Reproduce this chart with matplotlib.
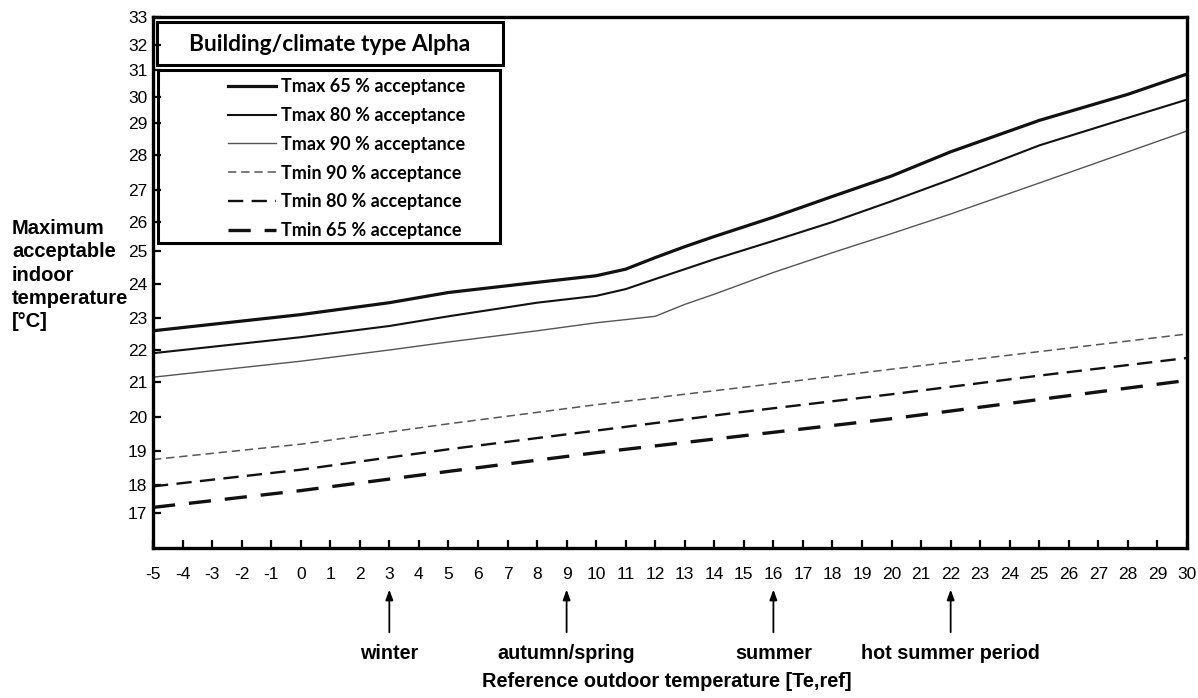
import numpy as np
import matplotlib
matplotlib.use('Agg')
import matplotlib.pyplot as plt
from matplotlib.patches import Rectangle
from matplotlib.lines import Line2D

# reference outdoor temperature [Te,ref]
x_max = [-5, 0, 3, 5, 8, 10, 11, 12, 13, 14, 16, 18, 20, 22, 25, 28, 30]
tmax_65 = [22.6, 23.1, 23.45, 23.75, 24.05, 24.25, 24.45, 24.8, 25.15, 25.5, 26.15, 26.8, 27.4, 28.1, 29.1, 30.1, 30.85]
tmax_80 = [21.9, 22.4, 22.75, 23.05, 23.45, 23.65, 23.85, 24.15, 24.45, 24.75, 25.35, 26.0, 26.65, 27.3, 28.3, 29.2, 29.9]
tmax_90 = [21.15, 21.65, 22.0, 22.25, 22.6, 22.85, 22.95, 23.05, 23.4, 23.7, 24.35, 24.95, 25.6, 26.25, 27.2, 28.1, 28.75]

x_min = [-5, 0, 5, 10, 15, 20, 25, 30]
tmin_90 = [18.75, 19.2, 19.8, 20.35, 20.85, 21.4, 21.95, 22.5]
tmin_80 = [17.95, 18.45, 19.05, 19.6, 20.15, 20.65, 21.2, 21.75]
tmin_65 = [17.2, 17.8, 18.4, 18.95, 19.45, 19.95, 20.5, 21.05]

labels = ['Tmax 65 % acceptance', 'Tmax 80 % acceptance', 'Tmax 90 % acceptance',
          'Tmin 90 % acceptance', 'Tmin 80 % acceptance', 'Tmin 65 % acceptance']
seasons = ['winter', 'autumn/spring', 'summer', 'hot summer period']
season_te = [3, 9, 16, 22]

x_ticks = list(range(-5, 31))
y_ticks = list(range(17, 34))

# the scanned original has uneven tick spacing on the y axis,
# so the scale follows the measured spacing (height above x axis, px)
scale_vals = np.arange(16, 34)
scale_h = 548 - np.array([548, 513, 485, 451, 417, 382, 350, 318, 284, 251,
                          222, 190, 155, 123, 97, 70, 45, 17])

def fwd(v):
    return np.interp(v, scale_vals, scale_h)

def inv(h):
    return np.interp(h, scale_h, scale_vals)

plt.rcParams['font.family'] = ['Liberation Sans', 'DejaVu Sans']
plt.rcParams['lines.scale_dashes'] = False

styles = [
    dict(color='#111111', lw=2.3, ls='-'),
    dict(color='#111111', lw=1.5, ls='-'),
    dict(color='#555555', lw=1.0, ls='-'),
    dict(color='#555555', lw=1.1, dashes=(6, 3.5)),
    dict(color='#111111', lw=1.7, dashes=(11, 6)),
    dict(color='#111111', lw=2.4, dashes=(16, 10)),
]

fig = plt.figure(figsize=(11.98, 6.98), dpi=100)
ax = fig.add_axes([153/1198, 150/698, 1034/1198, 531/698])
ax.set_yscale('function', functions=(fwd, inv))

series = [(x_max, tmax_65), (x_max, tmax_80), (x_max, tmax_90),
          (x_min, tmin_90), (x_min, tmin_80), (x_min, tmin_65)]
for (xs, ys), st in zip(series, styles):
    ax.plot(xs, ys, solid_capstyle='butt', dash_capstyle='butt', **st)

ax.set_xlim(-5, 30)
ax.set_ylim(16, 33)
ax.set_xticks(x_ticks)
ax.set_yticks(y_ticks)
ax.set_xticklabels([str(t) for t in x_ticks])
ax.set_yticklabels([str(t) for t in y_ticks])
ax.minorticks_off()
ax.tick_params(axis='both', direction='in', length=6, width=1.6, labelsize=12.5, colors='black')
ax.tick_params(axis='x', pad=14)
ax.tick_params(axis='y', pad=4)
for sp in ax.spines.values():
    sp.set_linewidth(2.4)
    sp.set_color('black')

# title box and legend box
ax.add_patch(Rectangle((0.004, 0.9096), 0.3345, 0.081, transform=ax.transAxes,
                       fill=False, lw=2.2, ec='black', zorder=5))
ax.text(0.171, 0.949, 'Building/climate type Alpha', transform=ax.transAxes,
        ha='center', va='center', family='Lato', weight='bold', fontsize=16.4)
ax.add_patch(Rectangle((0.005, 0.5744), 0.3308, 0.3256, transform=ax.transAxes,
                       fill=False, lw=2.2, ec='black', zorder=5))
handles = [Line2D([], [], **st) for st in styles]
ax.legend(handles, labels, loc='upper left', bbox_to_anchor=(0.0725, 0.8845),
          frameon=False, borderaxespad=0, borderpad=0, handlelength=2.65,
          handletextpad=0.3, labelspacing=0.65,
          prop=dict(family='Lato', weight='bold', size=13))

# season arrows under the axis
for te, name in zip(season_te, seasons):
    ax.annotate('', xy=(te, -0.073), xytext=(te, -0.164),
                xycoords=ax.get_xaxis_transform(),
                arrowprops=dict(arrowstyle='-|>,head_length=0.6,head_width=0.22',
                                color='black', lw=1.3))
    ax.text(te, -0.198, name, transform=ax.get_xaxis_transform(),
            ha='center', va='center', fontsize=14.2, weight='bold')

fig.text(0.557, 0.023, 'Reference outdoor temperature [Te,ref]', ha='center',
         va='center', fontsize=14.4, weight='bold')
fig.text(0.010, 0.606, 'Maximum\nacceptable\nindoor\ntemperature\n[°C]', ha='left',
         va='center', fontsize=14.5, weight='bold', linespacing=1.27)

fig.savefig('out.png', dpi=100)
